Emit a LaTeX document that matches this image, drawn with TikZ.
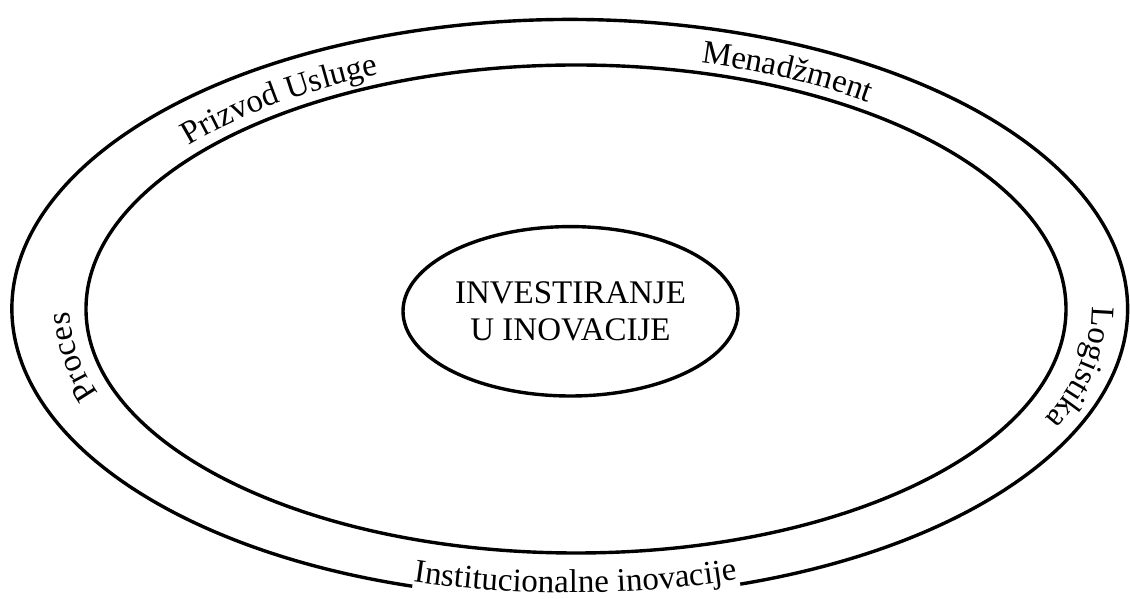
\documentclass[tikz,border=0pt]{standalone}
\usepackage{fontspec}
\setmainfont{Liberation Serif}
\usetikzlibrary{shapes.geometric,decorations.text}
\newcommand\lblfont{\fontsize{33}{40}\selectfont}
\tikzset{
  ring/.style={line width=3.4pt},
  bandtext/.style={decorate, decoration={text along path, text align=center, text={|\lblfont|#1}}},
}
\begin{document}
\begin{tikzpicture}[x=1pt,y=1pt]
\useasboundingbox (0,0) rectangle (1130,599);
% outer ellipse with a gap at the bottom for the text
\draw[ring] (569.75,290.25) ++(287.8:557.75pt and 289.25pt)
  arc[start angle=287.8, end angle=613.6, x radius=557.75pt, y radius=289.25pt];
% inner ellipse
\draw[ring] (576,290) ellipse[x radius=490pt, y radius=244pt];
% core
\node[ellipse, draw, ring, minimum width=335pt, minimum height=169.4pt, inner sep=0pt,
  align=center, font=\fontsize{33}{37}\selectfont] (core) at (570.5,287.7)
  {INVESTIRANJE\\U INOVACIJE};
% band labels
\path[bandtext={Prizvod Usluge}] (574.6,290.05) ++(147.25:504.9pt and 254pt)
  arc[start angle=147.25, end angle=107.25, x radius=504.9pt, y radius=254pt];
\path[bandtext={Menadžment}] (574.6,290.05) ++(84.1:504.9pt and 254pt)
  arc[start angle=84.1, end angle=44.1, x radius=504.9pt, y radius=254pt];
\path[bandtext={Proces}] (574.6,290.05) ++(209.1:504.9pt and 254pt)
  arc[start angle=209.1, end angle=169.1, x radius=504.9pt, y radius=254pt];
\path[bandtext={Logistika}] (573.4,290.1) ++(8.8:518.5pt and 263pt)
  arc[start angle=8.8, end angle=-31.2, x radius=518.5pt, y radius=263pt];
\path[bandtext={Institucionalne inovacije}] (569.75,290.25) ++(245.65:552.75pt and 284.25pt)
  arc[start angle=245.65, end angle=295.65, x radius=552.75pt, y radius=284.25pt];
\end{tikzpicture}
\end{document}
